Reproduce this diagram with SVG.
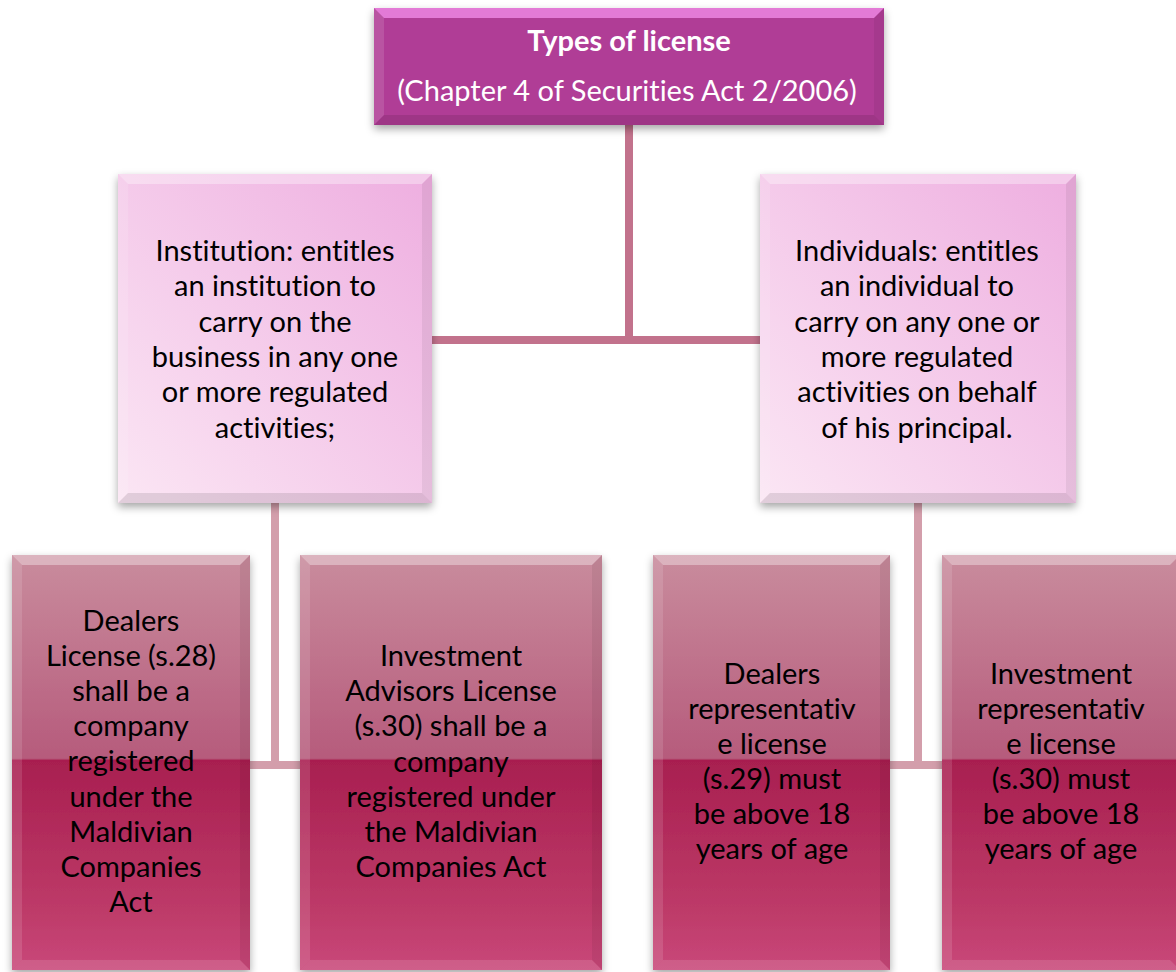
<svg xmlns="http://www.w3.org/2000/svg" width="1176" height="972" viewBox="0 0 1176 972">
  <style>
    .conn-top { fill: none; stroke: #c2728c; stroke-width: 8; }
    .conn-low { fill: none; stroke: #d39eab; stroke-width: 8; }
    .lbl { font-family: Lato, "Liberation Sans", sans-serif; font-size: 29px; fill: #000; text-anchor: middle; font-variant-ligatures: none; }
    .title { font-family: Lato, "Liberation Sans", sans-serif; font-size: 29px; fill: #fff; text-anchor: middle; font-variant-ligatures: none; }
    .hi { fill: #fff; opacity: 0.35; }
    .side { fill: #fff; opacity: 0.12; }
    .rt { fill: #000; opacity: 0.06; }
    .bt { fill: #000; opacity: 0.10; }
  </style>
  <defs>
    <filter id="shadow" x="-10%" y="-10%" width="120%" height="125%">
      <feDropShadow dx="0" dy="4" stdDeviation="4" flood-color="#000" flood-opacity="0.35"/>
    </filter>
    <linearGradient id="gMid" x1="1" y1="0" x2="0" y2="1">
      <stop offset="0" stop-color="#eeaee0"/>
      <stop offset="1" stop-color="#fbe6f4"/>
    </linearGradient>
    <linearGradient id="gLow" x1="0" y1="0" x2="0" y2="1">
      <stop offset="0" stop-color="#c98c9d"/>
      <stop offset="0.49" stop-color="#b65b7c"/>
      <stop offset="0.495" stop-color="#a81f50"/>
      <stop offset="0.85" stop-color="#bd3a68"/>
      <stop offset="1" stop-color="#c9487a"/>
    </linearGradient>
  </defs>

  <!-- connectors -->
  <g id="connectors">
    <path class="conn-top" d="M629,125 V340 M432,340 H760"/>
    <path class="conn-low" d="M275,503 V765 M131,765 H451"/>
    <path class="conn-low" d="M918,503 V765 M772,765 H1061"/>
  </g>

  <!-- root -->
  <g id="node-types">
    <rect x="374" y="8" width="510" height="117" fill="#b03c96" filter="url(#shadow)"/>
    <polygon points="374,8 884,8 874,18 384,18" fill="#f08ae6" opacity="0.8"/>
    <polygon class="side" points="374,8 384,18 384,115 374,125"/>
    <polygon class="rt" points="884,8 884,125 874,115 874,18"/>
    <polygon class="bt" points="374,125 384,115 874,115 884,125"/>
    <text class="title" x="629" y="51" font-weight="bold" font-size="30">Types of license</text>
    <text class="title" x="627" y="101">(Chapter 4 of Securities Act 2/2006)</text>
  </g>

  <!-- second level -->
  <g id="node-institution">
    <rect x="118" y="174" width="314" height="329" fill="url(#gMid)" filter="url(#shadow)"/>
    <polygon class="hi" points="118,174 432,174 422,184 128,184"/>
    <polygon class="side" points="118,174 128,184 128,493 118,503"/>
    <polygon class="rt" points="432,174 432,503 422,493 422,184"/>
    <polygon class="bt" points="118,503 128,493 422,493 432,503"/>
    <text class="lbl" x="275" y="261">Institution: entitles<tspan x="275" dy="35.3">an institution to</tspan><tspan x="275" dy="35.3">carry on the</tspan><tspan x="275" dy="35.3">business in any one</tspan><tspan x="275" dy="35.3">or more regulated</tspan><tspan x="275" dy="35.3">activities;</tspan></text>
  </g>

  <g id="node-individuals">
    <rect x="760" y="174" width="316" height="329" fill="url(#gMid)" filter="url(#shadow)"/>
    <polygon class="hi" points="760,174 1076,174 1066,184 770,184"/>
    <polygon class="side" points="760,174 770,184 770,493 760,503"/>
    <polygon class="rt" points="1076,174 1076,503 1066,493 1066,184"/>
    <polygon class="bt" points="760,503 770,493 1066,493 1076,503"/>
    <text class="lbl" x="917" y="261">Individuals: entitles<tspan x="917" dy="35.3">an individual to</tspan><tspan x="917" dy="35.3">carry on any one or</tspan><tspan x="917" dy="35.3">more regulated</tspan><tspan x="917" dy="35.3">activities on behalf</tspan><tspan x="917" dy="35.3">of his principal.</tspan></text>
  </g>

  <!-- third level -->
  <g id="node-dealers">
    <rect x="12" y="555" width="238" height="415" fill="url(#gLow)" filter="url(#shadow)"/>
    <polygon class="hi" points="12,555 250,555 240,565 22,565"/>
    <polygon class="side" points="12,555 22,565 22,960 12,970"/>
    <polygon class="rt" points="250,555 250,970 240,960 240,565"/>
    <polygon class="side" points="12,970 22,960 240,960 250,970"/>
    <text class="lbl" x="131" y="631">Dealers<tspan x="131" dy="35.1">License (s.28)</tspan><tspan x="131" dy="35.1">shall be a</tspan><tspan x="131" dy="35.1">company</tspan><tspan x="131" dy="35.1">registered</tspan><tspan x="131" dy="35.1">under the</tspan><tspan x="131" dy="35.1">Maldivian</tspan><tspan x="131" dy="35.1">Companies</tspan><tspan x="131" dy="35.1">Act</tspan></text>
  </g>

  <g id="node-advisors">
    <rect x="300" y="555" width="302" height="415" fill="url(#gLow)" filter="url(#shadow)"/>
    <polygon class="hi" points="300,555 602,555 592,565 310,565"/>
    <polygon class="side" points="300,555 310,565 310,960 300,970"/>
    <polygon class="rt" points="602,555 602,970 592,960 592,565"/>
    <polygon class="side" points="300,970 310,960 592,960 602,970"/>
    <text class="lbl" x="451" y="666">Investment<tspan x="451" dy="35.2">Advisors License</tspan><tspan x="451" dy="35.2">(s.30) shall be a</tspan><tspan x="451" dy="35.2">company</tspan><tspan x="451" dy="35.2">registered under</tspan><tspan x="451" dy="35.2">the Maldivian</tspan><tspan x="451" dy="35.2">Companies Act</tspan></text>
  </g>

  <g id="node-dealers-rep">
    <rect x="653" y="555" width="237" height="415" fill="url(#gLow)" filter="url(#shadow)"/>
    <polygon class="hi" points="653,555 890,555 880,565 663,565"/>
    <polygon class="side" points="653,555 663,565 663,960 653,970"/>
    <polygon class="rt" points="890,555 890,970 880,960 880,565"/>
    <polygon class="side" points="653,970 663,960 880,960 890,970"/>
    <text class="lbl" x="772" y="684">Dealers<tspan x="772" dy="35">representativ</tspan><tspan x="772" dy="35">e license</tspan><tspan x="772" dy="35">(s.29) must</tspan><tspan x="772" dy="35">be above 18</tspan><tspan x="772" dy="35">years of age</tspan></text>
  </g>

  <g id="node-investment-rep">
    <rect x="942" y="555" width="238" height="415" fill="url(#gLow)" filter="url(#shadow)"/>
    <polygon class="hi" points="942,555 1180,555 1170,565 952,565"/>
    <polygon class="side" points="942,555 952,565 952,960 942,970"/>
    <polygon class="side" points="942,970 952,960 1170,960 1180,970"/>
    <text class="lbl" x="1061" y="684">Investment<tspan x="1061" dy="35">representativ</tspan><tspan x="1061" dy="35">e license</tspan><tspan x="1061" dy="35">(s.30) must</tspan><tspan x="1061" dy="35">be above 18</tspan><tspan x="1061" dy="35">years of age</tspan></text>
  </g>
</svg>
